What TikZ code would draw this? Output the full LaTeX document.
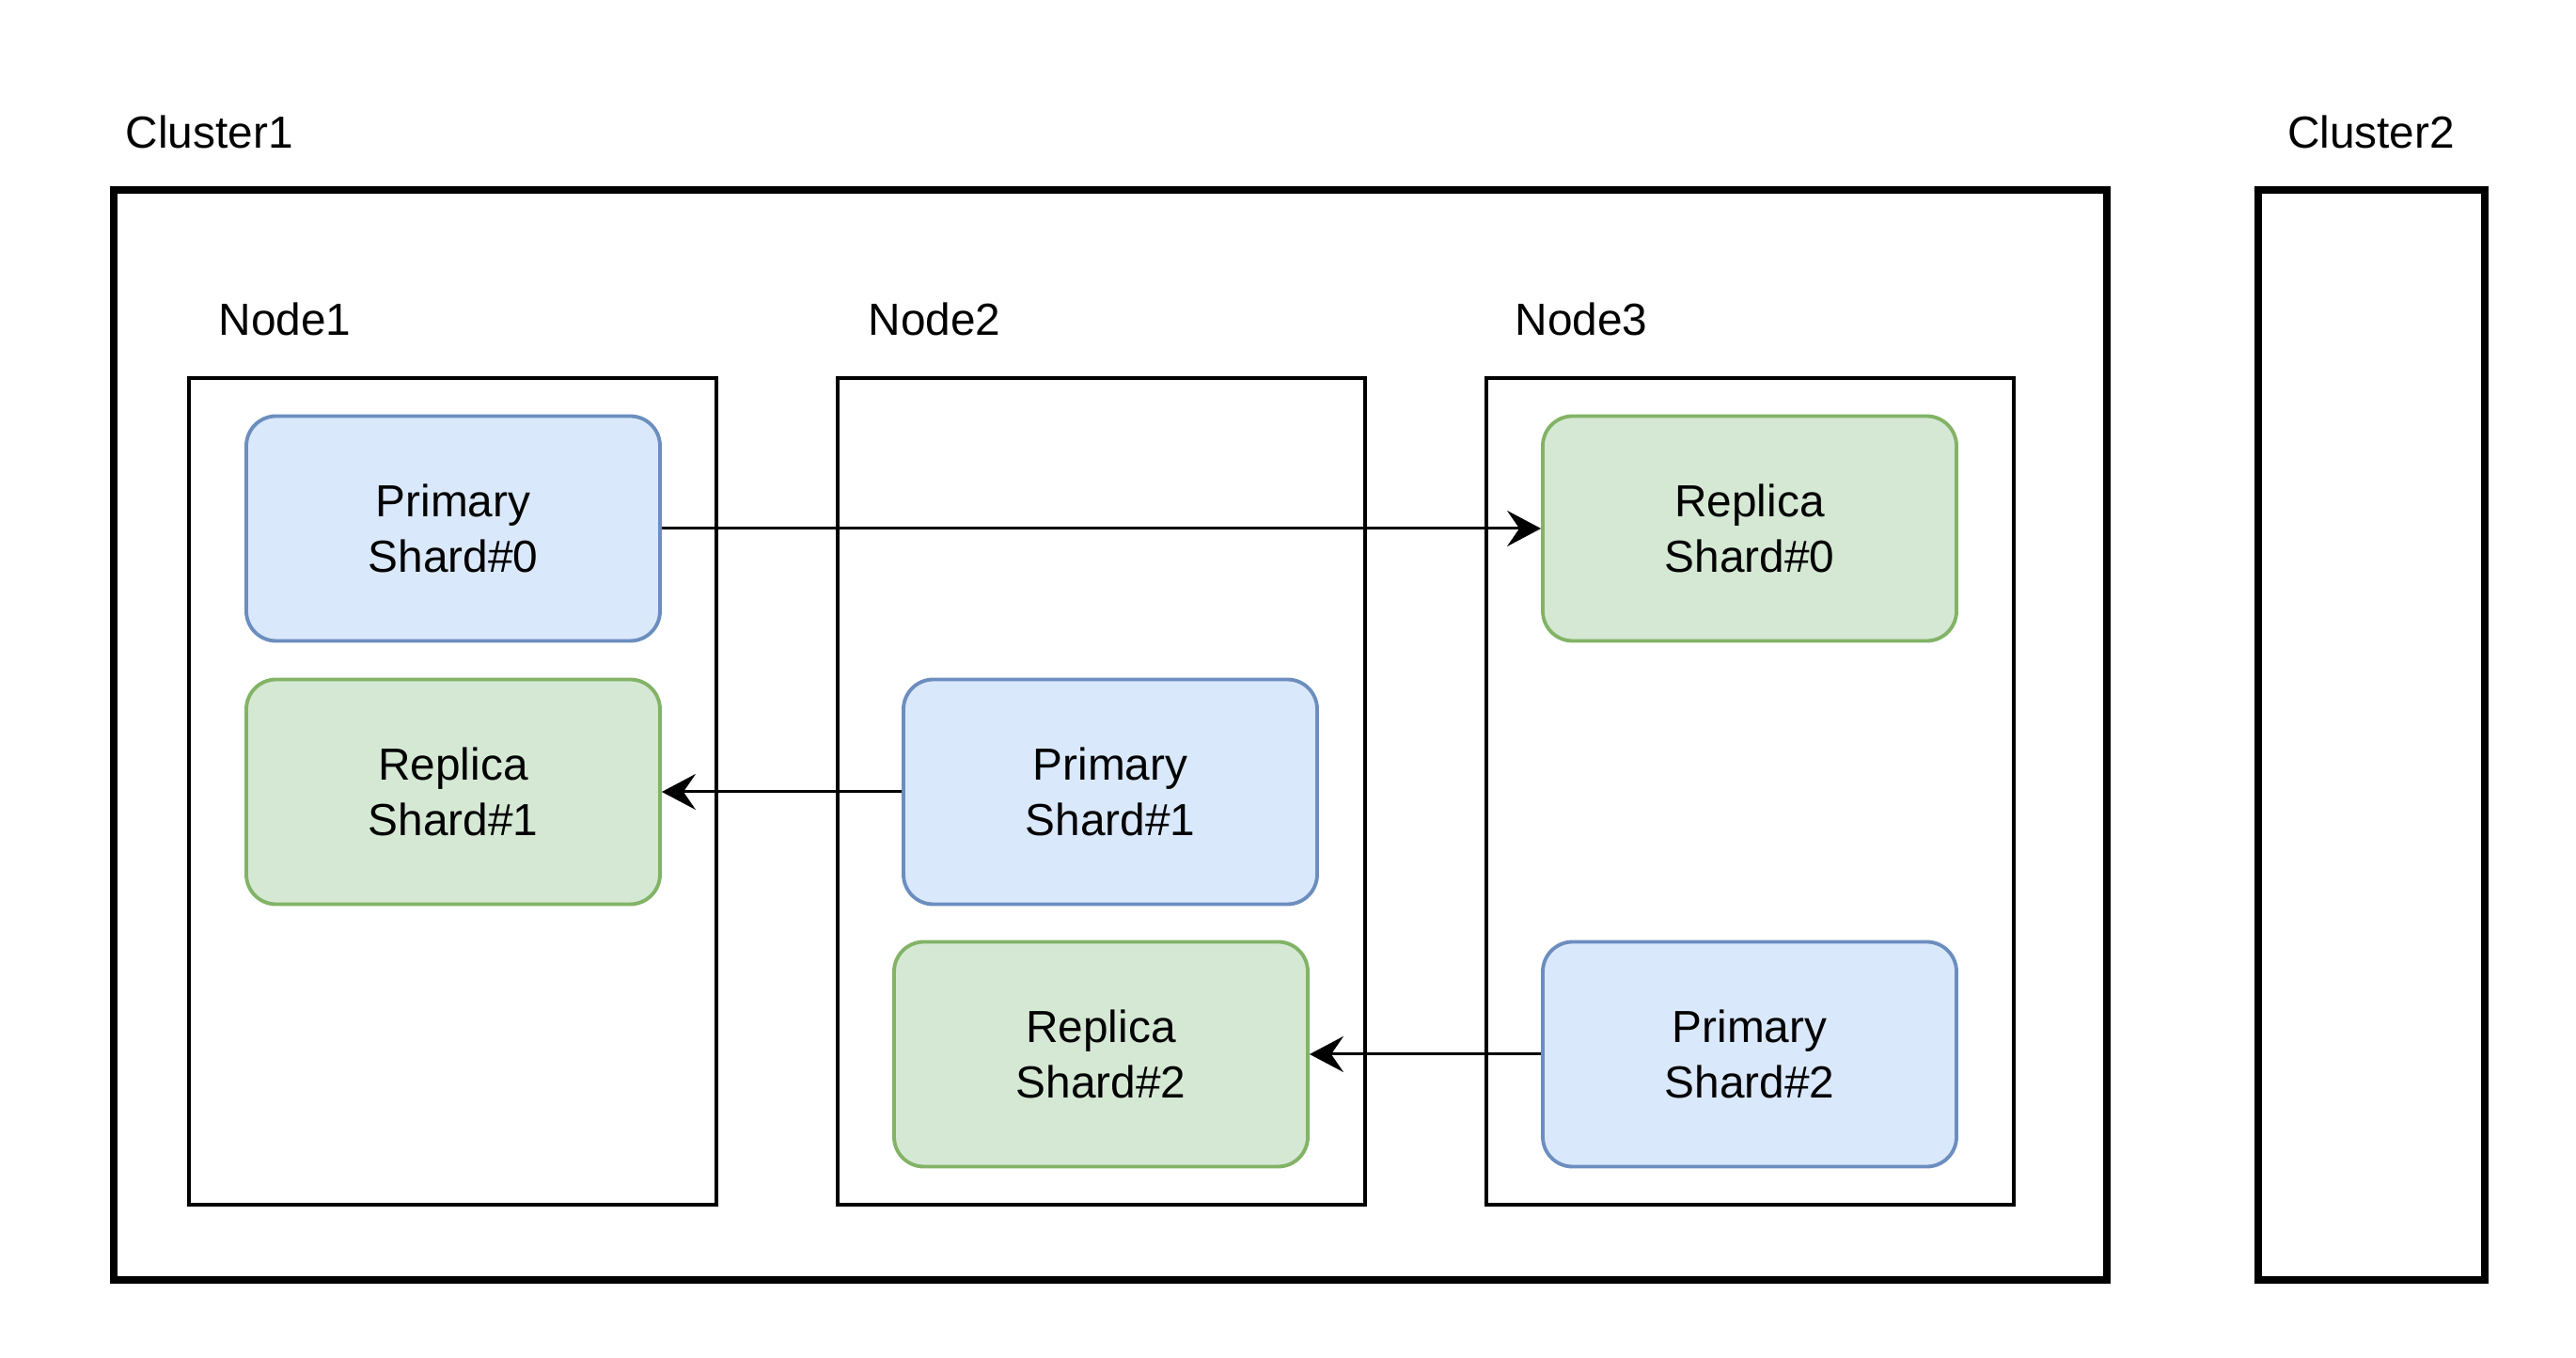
\documentclass[tikz,border=0pt]{standalone}
\usepackage{fontspec}
\setmainfont{Liberation Sans}
\usetikzlibrary{arrows.meta}

\begin{document}
\begin{tikzpicture}[
    cluster/.style={
        rectangle,
        draw=black,
        line width=2.1pt,
        minimum width=21.2cm,
        minimum height=11.59cm,
        inner sep=0pt
    },
    server/.style={
        rectangle,
        draw=black,
        line width=0.9pt,
        minimum width=5.61cm,
        minimum height=8.79cm,
        inner sep=0pt
    },
    shard/.style={
        rectangle,
        rounded corners=9pt,
        minimum width=4.4cm,
        minimum height=2.39cm,
        line width=1.1pt,
        draw=blue!50!gray,
        fill=primfill,
        font=\fontsize{13.6}{16.8}\selectfont,
        align=center
    },
    title/.style={
        anchor=west,
        inner sep=0pt,
        font=\fontsize{13.6}{16.8}\selectfont
    },
    copy/.style={
        -{Stealth[length=3.6mm,width=3.8mm,inset=1.3mm]},
        line width=0.85pt
    }
]
\definecolor{primfill}{HTML}{DAE8FC}
\definecolor{primdraw}{HTML}{6C8EBF}
\definecolor{repfill}{HTML}{D5E8D4}
\definecolor{repdraw}{HTML}{82B366}

\useasboundingbox (0,0) rectangle (27.4,14.44);

% clusters
\node[cluster] (cluster1) at (11.81,6.625) {};
\node[cluster, minimum width=2.41cm] (cluster2) at (25.225,6.625) {};
\node[title] (cluster1label) at (1.33,13.04) {Cluster1};
\node[title, anchor=center] (cluster2label) at (25.22,13.04) {Cluster2};

% nodes
\node[server] (node1) at (4.815,6.025) {};
\node[server] (node2) at (11.715,6.025) {};
\node[server] (node3) at (18.615,6.025) {};
\node[title] (node1label) at (2.32,11.05) {Node1};
\node[title] (node2label) at (9.23,11.05) {Node2};
\node[title] (node3label) at (16.11,11.05) {Node3};

% shards
\node[shard, draw=primdraw] (primary0) at (4.82,8.82) {Primary\\Shard\#0};
\node[shard, draw=repdraw, fill=repfill] (replica1) at (4.82,6.02) {Replica\\Shard\#1};
\node[shard, draw=primdraw] (primary1) at (11.81,6.02) {Primary\\Shard\#1};
\node[shard, draw=repdraw, fill=repfill] (replica2) at (11.71,3.23) {Replica\\Shard\#2};
\node[shard, draw=repdraw, fill=repfill] (replica0) at (18.61,8.82) {Replica\\Shard\#0};
\node[shard, draw=primdraw] (primary2) at (18.61,3.23) {Primary\\Shard\#2};

\draw[copy] (primary0) -- (replica0);
\draw[copy] (primary1) -- (replica1);
\draw[copy] (primary2) -- (replica2);

\end{tikzpicture}
\end{document}
